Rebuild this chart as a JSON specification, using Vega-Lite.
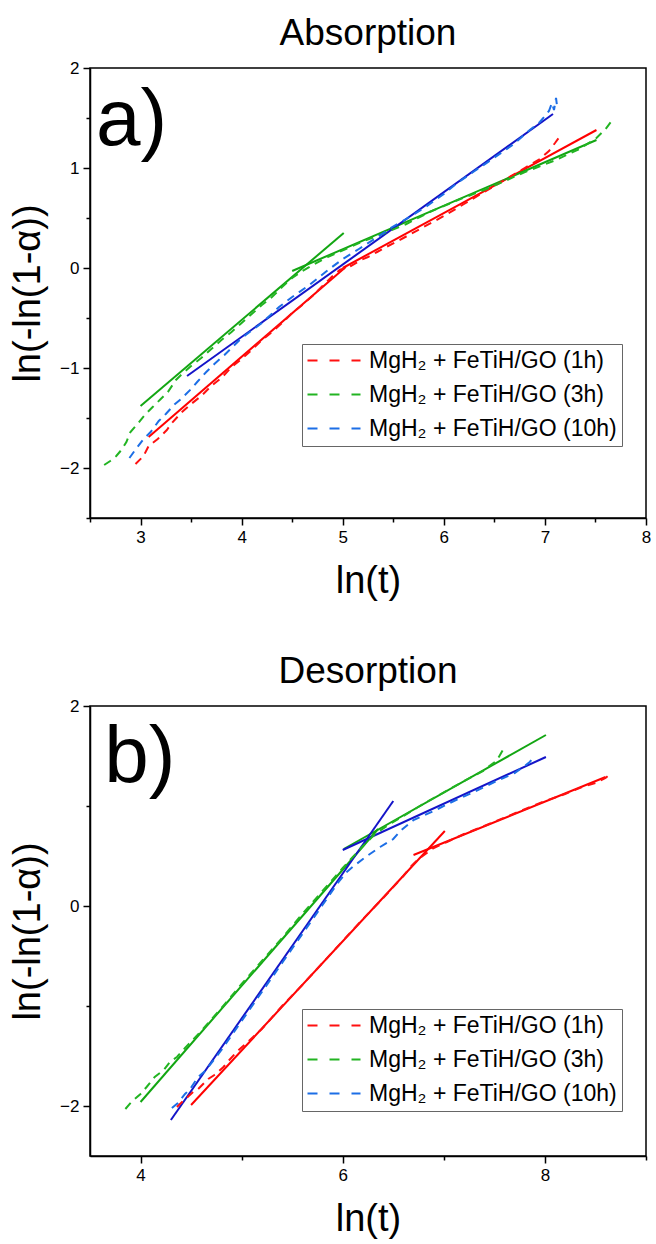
{
  "$schema": "https://vega.github.io/schema/vega-lite/v6.json",
  "padding": {"left": 8, "top": 14, "right": 4, "bottom": 4},
  "spacing": 51,
  "config": {
    "font": "Liberation Sans",
    "view": {"stroke": "black", "strokeWidth": 1.5},
    "axis": {
      "grid": false, "domainColor": "black", "domainWidth": 1.5,
      "tickColor": "black", "tickWidth": 1.5,
      "labelColor": "black", "labelFont": "Liberation Sans", "labelFontSize": 17,
      "titleFont": "Liberation Sans", "titleFontSize": 38, "titleFontWeight": "normal", "titleColor": "black",
      "labelOverlap": false, "labelFlush": false
    },
    "title": {"font": "Liberation Sans", "fontSize": 37, "fontWeight": "normal", "color": "black", "anchor": "middle", "offset": 6}
  },
  "datasets": {
    "absData": [
      {"series": "MgH₂ + FeTiH/GO (1h)", "x": 2.95, "y": -1.96},
      {"series": "MgH₂ + FeTiH/GO (1h)", "x": 3.03, "y": -1.88},
      {"series": "MgH₂ + FeTiH/GO (1h)", "x": 3.08, "y": -1.78},
      {"series": "MgH₂ + FeTiH/GO (1h)", "x": 3.17, "y": -1.71},
      {"series": "MgH₂ + FeTiH/GO (1h)", "x": 3.26, "y": -1.62},
      {"series": "MgH₂ + FeTiH/GO (1h)", "x": 3.31, "y": -1.55},
      {"series": "MgH₂ + FeTiH/GO (1h)", "x": 3.4, "y": -1.45},
      {"series": "MgH₂ + FeTiH/GO (1h)", "x": 3.5, "y": -1.36},
      {"series": "MgH₂ + FeTiH/GO (1h)", "x": 3.6, "y": -1.28},
      {"series": "MgH₂ + FeTiH/GO (1h)", "x": 3.7, "y": -1.18},
      {"series": "MgH₂ + FeTiH/GO (1h)", "x": 3.8, "y": -1.1},
      {"series": "MgH₂ + FeTiH/GO (1h)", "x": 3.9, "y": -0.99},
      {"series": "MgH₂ + FeTiH/GO (1h)", "x": 4.0, "y": -0.91},
      {"series": "MgH₂ + FeTiH/GO (1h)", "x": 4.1, "y": -0.82},
      {"series": "MgH₂ + FeTiH/GO (1h)", "x": 4.2, "y": -0.72},
      {"series": "MgH₂ + FeTiH/GO (1h)", "x": 4.3, "y": -0.64},
      {"series": "MgH₂ + FeTiH/GO (1h)", "x": 4.4, "y": -0.55},
      {"series": "MgH₂ + FeTiH/GO (1h)", "x": 4.5, "y": -0.45},
      {"series": "MgH₂ + FeTiH/GO (1h)", "x": 4.6, "y": -0.37},
      {"series": "MgH₂ + FeTiH/GO (1h)", "x": 4.7, "y": -0.28},
      {"series": "MgH₂ + FeTiH/GO (1h)", "x": 4.8, "y": -0.18},
      {"series": "MgH₂ + FeTiH/GO (1h)", "x": 4.9, "y": -0.08},
      {"series": "MgH₂ + FeTiH/GO (1h)", "x": 4.97, "y": -0.02},
      {"series": "MgH₂ + FeTiH/GO (1h)", "x": 5.08, "y": 0.02},
      {"series": "MgH₂ + FeTiH/GO (1h)", "x": 5.18, "y": 0.08},
      {"series": "MgH₂ + FeTiH/GO (1h)", "x": 5.25, "y": 0.11},
      {"series": "MgH₂ + FeTiH/GO (1h)", "x": 5.34, "y": 0.16},
      {"series": "MgH₂ + FeTiH/GO (1h)", "x": 5.43, "y": 0.21},
      {"series": "MgH₂ + FeTiH/GO (1h)", "x": 5.6, "y": 0.3},
      {"series": "MgH₂ + FeTiH/GO (1h)", "x": 5.8, "y": 0.41},
      {"series": "MgH₂ + FeTiH/GO (1h)", "x": 6.0, "y": 0.52},
      {"series": "MgH₂ + FeTiH/GO (1h)", "x": 6.2, "y": 0.64},
      {"series": "MgH₂ + FeTiH/GO (1h)", "x": 6.4, "y": 0.76},
      {"series": "MgH₂ + FeTiH/GO (1h)", "x": 6.6, "y": 0.88},
      {"series": "MgH₂ + FeTiH/GO (1h)", "x": 6.8, "y": 1.0},
      {"series": "MgH₂ + FeTiH/GO (1h)", "x": 6.95, "y": 1.09},
      {"series": "MgH₂ + FeTiH/GO (1h)", "x": 7.04, "y": 1.17},
      {"series": "MgH₂ + FeTiH/GO (1h)", "x": 7.1, "y": 1.25},
      {"series": "MgH₂ + FeTiH/GO (1h)", "x": 7.15, "y": 1.32},
      {"series": "MgH₂ + FeTiH/GO (3h)", "x": 2.64, "y": -1.97},
      {"series": "MgH₂ + FeTiH/GO (3h)", "x": 2.7, "y": -1.93},
      {"series": "MgH₂ + FeTiH/GO (3h)", "x": 2.76, "y": -1.88},
      {"series": "MgH₂ + FeTiH/GO (3h)", "x": 2.81, "y": -1.82},
      {"series": "MgH₂ + FeTiH/GO (3h)", "x": 2.86, "y": -1.74},
      {"series": "MgH₂ + FeTiH/GO (3h)", "x": 2.9, "y": -1.64},
      {"series": "MgH₂ + FeTiH/GO (3h)", "x": 2.97, "y": -1.56},
      {"series": "MgH₂ + FeTiH/GO (3h)", "x": 3.05, "y": -1.46},
      {"series": "MgH₂ + FeTiH/GO (3h)", "x": 3.12, "y": -1.39},
      {"series": "MgH₂ + FeTiH/GO (3h)", "x": 3.2, "y": -1.31},
      {"series": "MgH₂ + FeTiH/GO (3h)", "x": 3.27, "y": -1.24},
      {"series": "MgH₂ + FeTiH/GO (3h)", "x": 3.35, "y": -1.12},
      {"series": "MgH₂ + FeTiH/GO (3h)", "x": 3.41, "y": -1.06},
      {"series": "MgH₂ + FeTiH/GO (3h)", "x": 3.5, "y": -0.98},
      {"series": "MgH₂ + FeTiH/GO (3h)", "x": 3.6, "y": -0.9},
      {"series": "MgH₂ + FeTiH/GO (3h)", "x": 3.7, "y": -0.81},
      {"series": "MgH₂ + FeTiH/GO (3h)", "x": 3.8, "y": -0.72},
      {"series": "MgH₂ + FeTiH/GO (3h)", "x": 3.9, "y": -0.64},
      {"series": "MgH₂ + FeTiH/GO (3h)", "x": 4.0, "y": -0.55},
      {"series": "MgH₂ + FeTiH/GO (3h)", "x": 4.1, "y": -0.46},
      {"series": "MgH₂ + FeTiH/GO (3h)", "x": 4.2, "y": -0.37},
      {"series": "MgH₂ + FeTiH/GO (3h)", "x": 4.3, "y": -0.29},
      {"series": "MgH₂ + FeTiH/GO (3h)", "x": 4.4, "y": -0.19},
      {"series": "MgH₂ + FeTiH/GO (3h)", "x": 4.5, "y": -0.1},
      {"series": "MgH₂ + FeTiH/GO (3h)", "x": 4.6, "y": -0.03},
      {"series": "MgH₂ + FeTiH/GO (3h)", "x": 4.72, "y": 0.04},
      {"series": "MgH₂ + FeTiH/GO (3h)", "x": 4.85, "y": 0.11},
      {"series": "MgH₂ + FeTiH/GO (3h)", "x": 5.03, "y": 0.19},
      {"series": "MgH₂ + FeTiH/GO (3h)", "x": 5.21, "y": 0.27},
      {"series": "MgH₂ + FeTiH/GO (3h)", "x": 5.39, "y": 0.34},
      {"series": "MgH₂ + FeTiH/GO (3h)", "x": 5.63, "y": 0.44},
      {"series": "MgH₂ + FeTiH/GO (3h)", "x": 5.86, "y": 0.56},
      {"series": "MgH₂ + FeTiH/GO (3h)", "x": 6.14, "y": 0.68},
      {"series": "MgH₂ + FeTiH/GO (3h)", "x": 6.45, "y": 0.8},
      {"series": "MgH₂ + FeTiH/GO (3h)", "x": 6.78, "y": 0.95},
      {"series": "MgH₂ + FeTiH/GO (3h)", "x": 7.11, "y": 1.08},
      {"series": "MgH₂ + FeTiH/GO (3h)", "x": 7.34, "y": 1.19},
      {"series": "MgH₂ + FeTiH/GO (3h)", "x": 7.51, "y": 1.3},
      {"series": "MgH₂ + FeTiH/GO (3h)", "x": 7.6, "y": 1.39},
      {"series": "MgH₂ + FeTiH/GO (3h)", "x": 7.66, "y": 1.47},
      {"series": "MgH₂ + FeTiH/GO (10h)", "x": 2.89, "y": -1.9},
      {"series": "MgH₂ + FeTiH/GO (10h)", "x": 2.94, "y": -1.83},
      {"series": "MgH₂ + FeTiH/GO (10h)", "x": 3.03, "y": -1.71},
      {"series": "MgH₂ + FeTiH/GO (10h)", "x": 3.1, "y": -1.64},
      {"series": "MgH₂ + FeTiH/GO (10h)", "x": 3.18, "y": -1.53},
      {"series": "MgH₂ + FeTiH/GO (10h)", "x": 3.25, "y": -1.46},
      {"series": "MgH₂ + FeTiH/GO (10h)", "x": 3.33, "y": -1.37},
      {"series": "MgH₂ + FeTiH/GO (10h)", "x": 3.4, "y": -1.31},
      {"series": "MgH₂ + FeTiH/GO (10h)", "x": 3.5, "y": -1.21},
      {"series": "MgH₂ + FeTiH/GO (10h)", "x": 3.56, "y": -1.14},
      {"series": "MgH₂ + FeTiH/GO (10h)", "x": 3.65, "y": -1.04},
      {"series": "MgH₂ + FeTiH/GO (10h)", "x": 3.73, "y": -0.96},
      {"series": "MgH₂ + FeTiH/GO (10h)", "x": 3.83, "y": -0.87},
      {"series": "MgH₂ + FeTiH/GO (10h)", "x": 3.89, "y": -0.81},
      {"series": "MgH₂ + FeTiH/GO (10h)", "x": 3.98, "y": -0.72},
      {"series": "MgH₂ + FeTiH/GO (10h)", "x": 4.04, "y": -0.67},
      {"series": "MgH₂ + FeTiH/GO (10h)", "x": 4.2, "y": -0.55},
      {"series": "MgH₂ + FeTiH/GO (10h)", "x": 4.37, "y": -0.39},
      {"series": "MgH₂ + FeTiH/GO (10h)", "x": 4.5, "y": -0.29},
      {"series": "MgH₂ + FeTiH/GO (10h)", "x": 4.67, "y": -0.17},
      {"series": "MgH₂ + FeTiH/GO (10h)", "x": 4.83, "y": -0.04},
      {"series": "MgH₂ + FeTiH/GO (10h)", "x": 5.0, "y": 0.09},
      {"series": "MgH₂ + FeTiH/GO (10h)", "x": 5.16, "y": 0.19},
      {"series": "MgH₂ + FeTiH/GO (10h)", "x": 5.33, "y": 0.3},
      {"series": "MgH₂ + FeTiH/GO (10h)", "x": 5.49, "y": 0.41},
      {"series": "MgH₂ + FeTiH/GO (10h)", "x": 5.66, "y": 0.51},
      {"series": "MgH₂ + FeTiH/GO (10h)", "x": 5.82, "y": 0.61},
      {"series": "MgH₂ + FeTiH/GO (10h)", "x": 6.0, "y": 0.74},
      {"series": "MgH₂ + FeTiH/GO (10h)", "x": 6.12, "y": 0.84},
      {"series": "MgH₂ + FeTiH/GO (10h)", "x": 6.29, "y": 0.96},
      {"series": "MgH₂ + FeTiH/GO (10h)", "x": 6.48, "y": 1.09},
      {"series": "MgH₂ + FeTiH/GO (10h)", "x": 6.68, "y": 1.23},
      {"series": "MgH₂ + FeTiH/GO (10h)", "x": 6.85, "y": 1.38},
      {"series": "MgH₂ + FeTiH/GO (10h)", "x": 6.95, "y": 1.46},
      {"series": "MgH₂ + FeTiH/GO (10h)", "x": 7.04, "y": 1.57},
      {"series": "MgH₂ + FeTiH/GO (10h)", "x": 7.07, "y": 1.65},
      {"series": "MgH₂ + FeTiH/GO (10h)", "x": 7.09, "y": 1.58},
      {"series": "MgH₂ + FeTiH/GO (10h)", "x": 7.11, "y": 1.7},
      {"series": "MgH₂ + FeTiH/GO (10h)", "x": 7.12, "y": 1.62}
    ],
    "absFit": [
      {"series": "MgH₂ + FeTiH/GO (1h)", "seg": "r1", "x": 3.08, "y": -1.69},
      {"series": "MgH₂ + FeTiH/GO (1h)", "seg": "r1", "x": 5.03, "y": 0.01},
      {"series": "MgH₂ + FeTiH/GO (1h)", "seg": "r2", "x": 5.0, "y": 0.0},
      {"series": "MgH₂ + FeTiH/GO (1h)", "seg": "r2", "x": 7.51, "y": 1.38},
      {"series": "MgH₂ + FeTiH/GO (3h)", "seg": "g1", "x": 3.0, "y": -1.38},
      {"series": "MgH₂ + FeTiH/GO (3h)", "seg": "g1", "x": 5.01, "y": 0.35},
      {"series": "MgH₂ + FeTiH/GO (3h)", "seg": "g2", "x": 4.5, "y": -0.03},
      {"series": "MgH₂ + FeTiH/GO (3h)", "seg": "g2", "x": 7.51, "y": 1.28},
      {"series": "MgH₂ + FeTiH/GO (10h)", "seg": "b1", "x": 3.46, "y": -1.08},
      {"series": "MgH₂ + FeTiH/GO (10h)", "seg": "b1", "x": 7.08, "y": 1.54}
    ],
    "desData": [
      {"series": "MgH₂ + FeTiH/GO (1h)", "x": 4.36, "y": -2.01},
      {"series": "MgH₂ + FeTiH/GO (1h)", "x": 4.41, "y": -1.96},
      {"series": "MgH₂ + FeTiH/GO (1h)", "x": 4.52, "y": -1.86},
      {"series": "MgH₂ + FeTiH/GO (1h)", "x": 4.57, "y": -1.83},
      {"series": "MgH₂ + FeTiH/GO (1h)", "x": 4.67, "y": -1.73},
      {"series": "MgH₂ + FeTiH/GO (1h)", "x": 4.73, "y": -1.69},
      {"series": "MgH₂ + FeTiH/GO (1h)", "x": 4.82, "y": -1.61},
      {"series": "MgH₂ + FeTiH/GO (1h)", "x": 4.86, "y": -1.56},
      {"series": "MgH₂ + FeTiH/GO (1h)", "x": 4.95, "y": -1.46},
      {"series": "MgH₂ + FeTiH/GO (1h)", "x": 5.2, "y": -1.23},
      {"series": "MgH₂ + FeTiH/GO (1h)", "x": 5.4, "y": -1.0},
      {"series": "MgH₂ + FeTiH/GO (1h)", "x": 5.6, "y": -0.79},
      {"series": "MgH₂ + FeTiH/GO (1h)", "x": 5.8, "y": -0.57},
      {"series": "MgH₂ + FeTiH/GO (1h)", "x": 6.0, "y": -0.35},
      {"series": "MgH₂ + FeTiH/GO (1h)", "x": 6.2, "y": -0.13},
      {"series": "MgH₂ + FeTiH/GO (1h)", "x": 6.4, "y": 0.08},
      {"series": "MgH₂ + FeTiH/GO (1h)", "x": 6.6, "y": 0.3},
      {"series": "MgH₂ + FeTiH/GO (1h)", "x": 6.68, "y": 0.4},
      {"series": "MgH₂ + FeTiH/GO (1h)", "x": 6.75, "y": 0.47},
      {"series": "MgH₂ + FeTiH/GO (1h)", "x": 6.9, "y": 0.58},
      {"series": "MgH₂ + FeTiH/GO (1h)", "x": 7.03, "y": 0.64},
      {"series": "MgH₂ + FeTiH/GO (1h)", "x": 7.2, "y": 0.72},
      {"series": "MgH₂ + FeTiH/GO (1h)", "x": 7.4, "y": 0.8},
      {"series": "MgH₂ + FeTiH/GO (1h)", "x": 7.71, "y": 0.93},
      {"series": "MgH₂ + FeTiH/GO (1h)", "x": 8.0, "y": 1.05},
      {"series": "MgH₂ + FeTiH/GO (1h)", "x": 8.2, "y": 1.12},
      {"series": "MgH₂ + FeTiH/GO (1h)", "x": 8.37, "y": 1.19},
      {"series": "MgH₂ + FeTiH/GO (1h)", "x": 8.5, "y": 1.23},
      {"series": "MgH₂ + FeTiH/GO (1h)", "x": 8.6, "y": 1.28},
      {"series": "MgH₂ + FeTiH/GO (1h)", "x": 8.66, "y": 1.33},
      {"series": "MgH₂ + FeTiH/GO (3h)", "x": 3.85, "y": -2.03},
      {"series": "MgH₂ + FeTiH/GO (3h)", "x": 3.91, "y": -1.96},
      {"series": "MgH₂ + FeTiH/GO (3h)", "x": 4.0, "y": -1.88},
      {"series": "MgH₂ + FeTiH/GO (3h)", "x": 4.06, "y": -1.81},
      {"series": "MgH₂ + FeTiH/GO (3h)", "x": 4.14, "y": -1.71},
      {"series": "MgH₂ + FeTiH/GO (3h)", "x": 4.23, "y": -1.64},
      {"series": "MgH₂ + FeTiH/GO (3h)", "x": 4.29, "y": -1.56},
      {"series": "MgH₂ + FeTiH/GO (3h)", "x": 4.36, "y": -1.51},
      {"series": "MgH₂ + FeTiH/GO (3h)", "x": 4.44, "y": -1.42},
      {"series": "MgH₂ + FeTiH/GO (3h)", "x": 4.6, "y": -1.25},
      {"series": "MgH₂ + FeTiH/GO (3h)", "x": 4.8, "y": -1.02},
      {"series": "MgH₂ + FeTiH/GO (3h)", "x": 5.0, "y": -0.78},
      {"series": "MgH₂ + FeTiH/GO (3h)", "x": 5.2, "y": -0.55},
      {"series": "MgH₂ + FeTiH/GO (3h)", "x": 5.4, "y": -0.32},
      {"series": "MgH₂ + FeTiH/GO (3h)", "x": 5.6, "y": -0.08},
      {"series": "MgH₂ + FeTiH/GO (3h)", "x": 5.8, "y": 0.15},
      {"series": "MgH₂ + FeTiH/GO (3h)", "x": 6.0, "y": 0.38},
      {"series": "MgH₂ + FeTiH/GO (3h)", "x": 6.1, "y": 0.49},
      {"series": "MgH₂ + FeTiH/GO (3h)", "x": 6.2, "y": 0.6},
      {"series": "MgH₂ + FeTiH/GO (3h)", "x": 6.32, "y": 0.72},
      {"series": "MgH₂ + FeTiH/GO (3h)", "x": 6.45, "y": 0.81},
      {"series": "MgH₂ + FeTiH/GO (3h)", "x": 6.6, "y": 0.9},
      {"series": "MgH₂ + FeTiH/GO (3h)", "x": 6.73, "y": 0.98},
      {"series": "MgH₂ + FeTiH/GO (3h)", "x": 6.9, "y": 1.08},
      {"series": "MgH₂ + FeTiH/GO (3h)", "x": 7.06, "y": 1.17},
      {"series": "MgH₂ + FeTiH/GO (3h)", "x": 7.2, "y": 1.25},
      {"series": "MgH₂ + FeTiH/GO (3h)", "x": 7.39, "y": 1.35},
      {"series": "MgH₂ + FeTiH/GO (3h)", "x": 7.45, "y": 1.4},
      {"series": "MgH₂ + FeTiH/GO (3h)", "x": 7.52, "y": 1.45},
      {"series": "MgH₂ + FeTiH/GO (3h)", "x": 7.55, "y": 1.5},
      {"series": "MgH₂ + FeTiH/GO (3h)", "x": 7.59, "y": 1.57},
      {"series": "MgH₂ + FeTiH/GO (10h)", "x": 4.31, "y": -2.02},
      {"series": "MgH₂ + FeTiH/GO (10h)", "x": 4.37, "y": -1.97},
      {"series": "MgH₂ + FeTiH/GO (10h)", "x": 4.44, "y": -1.88},
      {"series": "MgH₂ + FeTiH/GO (10h)", "x": 4.49, "y": -1.83},
      {"series": "MgH₂ + FeTiH/GO (10h)", "x": 4.57, "y": -1.71},
      {"series": "MgH₂ + FeTiH/GO (10h)", "x": 4.64, "y": -1.65},
      {"series": "MgH₂ + FeTiH/GO (10h)", "x": 4.8, "y": -1.44},
      {"series": "MgH₂ + FeTiH/GO (10h)", "x": 5.0, "y": -1.15},
      {"series": "MgH₂ + FeTiH/GO (10h)", "x": 5.2, "y": -0.86},
      {"series": "MgH₂ + FeTiH/GO (10h)", "x": 5.4, "y": -0.57},
      {"series": "MgH₂ + FeTiH/GO (10h)", "x": 5.6, "y": -0.28},
      {"series": "MgH₂ + FeTiH/GO (10h)", "x": 5.8, "y": 0.01},
      {"series": "MgH₂ + FeTiH/GO (10h)", "x": 5.95, "y": 0.23},
      {"series": "MgH₂ + FeTiH/GO (10h)", "x": 6.04, "y": 0.34},
      {"series": "MgH₂ + FeTiH/GO (10h)", "x": 6.11, "y": 0.4},
      {"series": "MgH₂ + FeTiH/GO (10h)", "x": 6.24, "y": 0.5},
      {"series": "MgH₂ + FeTiH/GO (10h)", "x": 6.37, "y": 0.59},
      {"series": "MgH₂ + FeTiH/GO (10h)", "x": 6.5, "y": 0.67},
      {"series": "MgH₂ + FeTiH/GO (10h)", "x": 6.57, "y": 0.75},
      {"series": "MgH₂ + FeTiH/GO (10h)", "x": 6.7, "y": 0.86},
      {"series": "MgH₂ + FeTiH/GO (10h)", "x": 6.9, "y": 0.95},
      {"series": "MgH₂ + FeTiH/GO (10h)", "x": 7.1, "y": 1.05},
      {"series": "MgH₂ + FeTiH/GO (10h)", "x": 7.3, "y": 1.14},
      {"series": "MgH₂ + FeTiH/GO (10h)", "x": 7.5, "y": 1.24},
      {"series": "MgH₂ + FeTiH/GO (10h)", "x": 7.7, "y": 1.33},
      {"series": "MgH₂ + FeTiH/GO (10h)", "x": 7.8, "y": 1.4},
      {"series": "MgH₂ + FeTiH/GO (10h)", "x": 7.85, "y": 1.44},
      {"series": "MgH₂ + FeTiH/GO (10h)", "x": 7.9, "y": 1.5}
    ],
    "desFit": [
      {"series": "MgH₂ + FeTiH/GO (1h)", "seg": "r1", "x": 4.5, "y": -1.99},
      {"series": "MgH₂ + FeTiH/GO (1h)", "seg": "r1", "x": 7.01, "y": 0.75},
      {"series": "MgH₂ + FeTiH/GO (1h)", "seg": "r2", "x": 6.7, "y": 0.51},
      {"series": "MgH₂ + FeTiH/GO (1h)", "seg": "r2", "x": 8.6, "y": 1.29},
      {"series": "MgH₂ + FeTiH/GO (3h)", "seg": "g1", "x": 4.0, "y": -1.96},
      {"series": "MgH₂ + FeTiH/GO (3h)", "seg": "g1", "x": 6.35, "y": 0.77},
      {"series": "MgH₂ + FeTiH/GO (3h)", "seg": "g2", "x": 6.01, "y": 0.57},
      {"series": "MgH₂ + FeTiH/GO (3h)", "seg": "g2", "x": 8.01, "y": 1.71},
      {"series": "MgH₂ + FeTiH/GO (10h)", "seg": "b1", "x": 4.3, "y": -2.14},
      {"series": "MgH₂ + FeTiH/GO (10h)", "seg": "b1", "x": 6.5, "y": 1.05},
      {"series": "MgH₂ + FeTiH/GO (10h)", "seg": "b2", "x": 6.0, "y": 0.56},
      {"series": "MgH₂ + FeTiH/GO (10h)", "seg": "b2", "x": 8.01, "y": 1.49}
    ],
    "one": [{}]
  },
  "resolve": {"scale": {"color": "independent"}, "legend": {"color": "independent"}},
  "vconcat": [
    {
      "width": 556, "height": 450,
      "title": {"text": "Absorption"},
      "resolve": {"axis": {"x": "independent", "y": "independent"}},
      "layer": [
        {
          "data": {"name": "absFit"},
          "transform": [{"filter": "datum.series === 'MgH₂ + FeTiH/GO (1h)'"}],
          "mark": {"type": "line", "strokeWidth": 2, "color": "#ff0000"},
          "encoding": {
            "x": {"field": "x", "type": "quantitative", "scale": {"domain": [2.5, 8], "nice": false, "zero": false},
              "axis": {"title": "ln(t)", "orient": "bottom", "values": [3, 4, 5, 6, 7, 8], "tickSize": 7,
                "labelPadding": 4, "titlePadding": 17}},
            "y": {"field": "y", "type": "quantitative", "scale": {"domain": [-2.5, 2], "nice": false, "zero": false},
              "axis": {"title": "ln(-ln(1-α))", "orient": "left", "values": [-2, -1, 0, 1, 2], "tickSize": 7,
                "labelPadding": 4, "titlePadding": 12}},
            "detail": {"field": "seg", "type": "nominal"}
          }
        },
        {
          "data": {"name": "absFit"},
          "transform": [{"filter": "datum.series === 'MgH₂ + FeTiH/GO (3h)'"}],
          "mark": {"type": "line", "strokeWidth": 2, "color": "#12a612"},
          "encoding": {
            "x": {"field": "x", "type": "quantitative", "axis": null},
            "y": {"field": "y", "type": "quantitative", "axis": null},
            "detail": {"field": "seg", "type": "nominal"}
          }
        },
        {
          "data": {"name": "absFit"},
          "transform": [{"filter": "datum.series === 'MgH₂ + FeTiH/GO (10h)'"}],
          "mark": {"type": "line", "strokeWidth": 2, "color": "#1414c8"},
          "encoding": {
            "x": {"field": "x", "type": "quantitative", "axis": null},
            "y": {"field": "y", "type": "quantitative", "axis": null},
            "detail": {"field": "seg", "type": "nominal"}
          }
        },
        {
          "data": {"name": "absData"},
          "mark": {"type": "line", "strokeWidth": 2, "strokeDash": [8, 6]},
          "encoding": {
            "x": {"field": "x", "type": "quantitative",
              "axis": {"title": null, "orient": "bottom", "values": [2.5, 3.5, 4.5, 5.5, 6.5, 7.5], "tickSize": 4, "labels": false, "domain": false}},
            "y": {"field": "y", "type": "quantitative",
              "axis": {"title": null, "orient": "left", "values": [-2.5, -1.5, -0.5, 0.5, 1.5], "tickSize": 4, "labels": false, "domain": false}},
            "color": {"field": "series", "type": "nominal",
              "scale": {"domain": ["MgH₂ + FeTiH/GO (1h)", "MgH₂ + FeTiH/GO (3h)", "MgH₂ + FeTiH/GO (10h)"], "range": ["#ff1010", "#22b422", "#1c6ee6"]},
              "legend": {"orient": "none", "legendX": 212, "legendY": 276, "title": null,
                "symbolType": "M-1.1,0H4.2", "symbolDash": [10, 12], "symbolStrokeWidth": 2.2, "symbolSize": 400,
                "labelFont": "Liberation Sans", "labelFontSize": 23, "labelColor": "black", "labelLimit": 500,
                "strokeColor": "#666666", "padding": 5, "rowPadding": 10, "labelOffset": 39, "fillColor": "white"}}
          }
        },
        {
          "data": {"name": "one"},
          "mark": {"type": "text", "text": "a)", "fontSize": 80, "align": "left", "baseline": "alphabetic", "font": "Liberation Sans", "color": "black"},
          "encoding": {
            "x": {"datum": 2.56, "type": "quantitative", "axis": null},
            "y": {"datum": 1.23, "type": "quantitative", "axis": null}
          }
        }
      ]
    },
    {
      "width": 556, "height": 450,
      "title": {"text": "Desorption"},
      "resolve": {"axis": {"x": "independent", "y": "independent"}},
      "layer": [
        {
          "data": {"name": "desFit"},
          "transform": [{"filter": "datum.series === 'MgH₂ + FeTiH/GO (1h)'"}],
          "mark": {"type": "line", "strokeWidth": 2, "color": "#ff0000"},
          "encoding": {
            "x": {"field": "x", "type": "quantitative", "scale": {"domain": [3.5, 9], "nice": false, "zero": false},
              "axis": {"title": "ln(t)", "orient": "bottom", "values": [4, 6, 8], "tickSize": 7,
                "labelPadding": 4, "titlePadding": 17}},
            "y": {"field": "y", "type": "quantitative", "scale": {"domain": [-2.5, 2], "nice": false, "zero": false},
              "axis": {"title": "ln(-ln(1-α))", "orient": "left", "values": [-2, 0, 2], "tickSize": 7,
                "labelPadding": 4, "titlePadding": 12}},
            "detail": {"field": "seg", "type": "nominal"}
          }
        },
        {
          "data": {"name": "desFit"},
          "transform": [{"filter": "datum.series === 'MgH₂ + FeTiH/GO (3h)'"}],
          "mark": {"type": "line", "strokeWidth": 2, "color": "#12a612"},
          "encoding": {
            "x": {"field": "x", "type": "quantitative", "axis": null},
            "y": {"field": "y", "type": "quantitative", "axis": null},
            "detail": {"field": "seg", "type": "nominal"}
          }
        },
        {
          "data": {"name": "desFit"},
          "transform": [{"filter": "datum.series === 'MgH₂ + FeTiH/GO (10h)'"}],
          "mark": {"type": "line", "strokeWidth": 2, "color": "#1414c8"},
          "encoding": {
            "x": {"field": "x", "type": "quantitative", "axis": null},
            "y": {"field": "y", "type": "quantitative", "axis": null},
            "detail": {"field": "seg", "type": "nominal"}
          }
        },
        {
          "data": {"name": "desData"},
          "mark": {"type": "line", "strokeWidth": 2, "strokeDash": [8, 6]},
          "encoding": {
            "x": {"field": "x", "type": "quantitative",
              "axis": {"title": null, "orient": "bottom", "values": [5, 7, 9], "tickSize": 4, "labels": false, "domain": false}},
            "y": {"field": "y", "type": "quantitative",
              "axis": {"title": null, "orient": "left", "values": [-1, 1], "tickSize": 4, "labels": false, "domain": false}},
            "color": {"field": "series", "type": "nominal",
              "scale": {"domain": ["MgH₂ + FeTiH/GO (1h)", "MgH₂ + FeTiH/GO (3h)", "MgH₂ + FeTiH/GO (10h)"], "range": ["#ff1010", "#22b422", "#1c6ee6"]},
              "legend": {"orient": "none", "legendX": 212, "legendY": 303, "title": null,
                "symbolType": "M-1.1,0H4.2", "symbolDash": [10, 12], "symbolStrokeWidth": 2.2, "symbolSize": 400,
                "labelFont": "Liberation Sans", "labelFontSize": 23, "labelColor": "black", "labelLimit": 500,
                "strokeColor": "#666666", "padding": 5, "rowPadding": 10, "labelOffset": 39, "fillColor": "white"}}
          }
        },
        {
          "data": {"name": "one"},
          "mark": {"type": "text", "text": "b)", "fontSize": 80, "align": "left", "baseline": "alphabetic", "font": "Liberation Sans", "color": "black"},
          "encoding": {
            "x": {"datum": 3.64, "type": "quantitative", "axis": null},
            "y": {"datum": 1.24, "type": "quantitative", "axis": null}
          }
        }
      ]
    }
  ]
}
